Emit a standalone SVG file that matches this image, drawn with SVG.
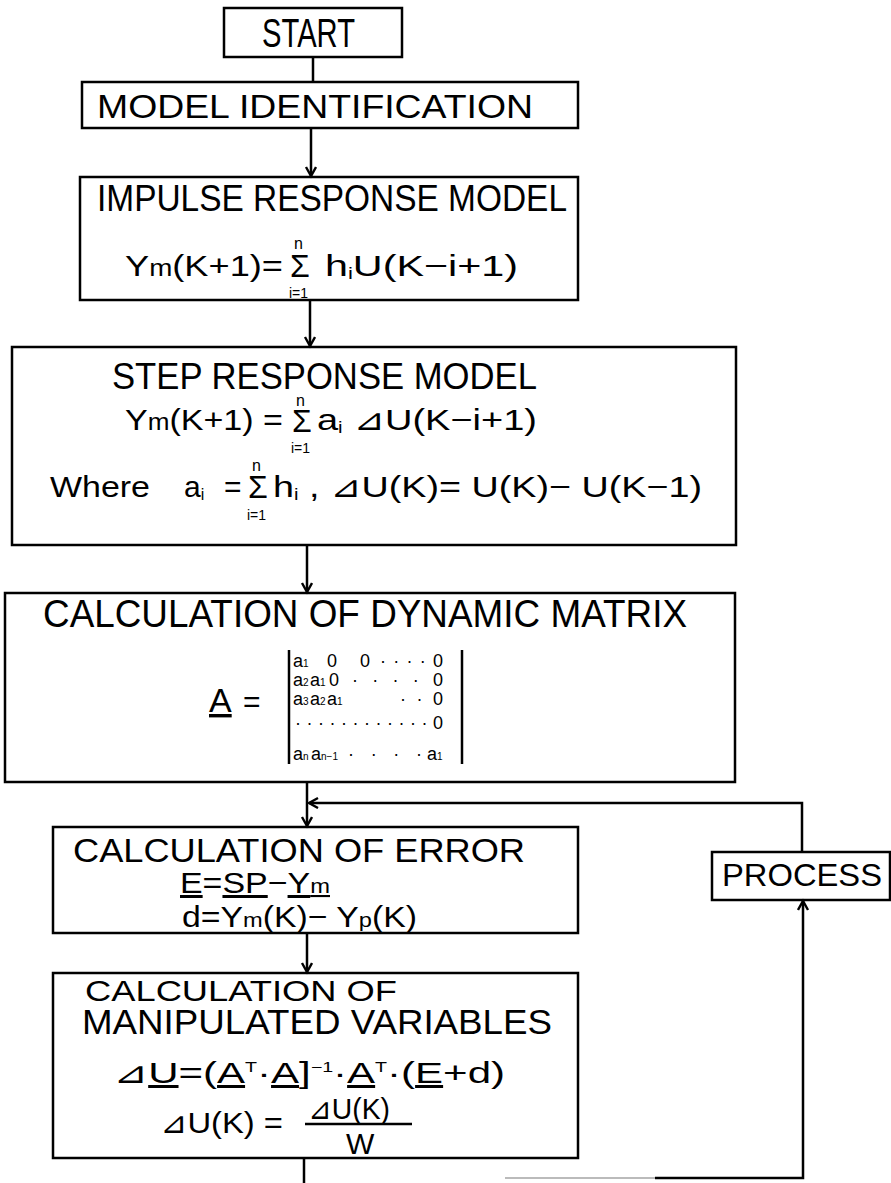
<svg xmlns="http://www.w3.org/2000/svg" width="891" height="1183" viewBox="0 0 891 1183">
<defs>
<style>
.box{fill:none;stroke:#000;stroke-width:2.5}
.ln{fill:none;stroke:#000;stroke-width:2.5}
.t{font-family:"Liberation Sans","DejaVu Sans",sans-serif;fill:#000}
.f{font-family:"Liberation Sans","DejaVu Sans",sans-serif;fill:#000;font-size:30px}
.s{font-family:"Liberation Sans","DejaVu Sans",sans-serif;fill:#000}
.m{font-family:"Liberation Sans","DejaVu Sans",sans-serif;fill:#000;font-size:18px}
.sub{font-size:10px}
</style>
<marker id="arr" markerUnits="userSpaceOnUse" markerWidth="14" markerHeight="14" refX="10" refY="6" orient="auto">
<path d="M1,1 L10,6 L1,11" fill="none" stroke="#000" stroke-width="2.4"/>
</marker>
</defs>
<rect width="891" height="1183" fill="#fff"/>

<g id="start">
<rect class="box" x="224" y="8" width="178" height="49"/>
<text class="t" x="262" y="47" font-size="40" textLength="93" lengthAdjust="spacingAndGlyphs">START</text>
</g>

<g id="model-identification">
<rect class="box" x="82" y="82" width="496" height="46"/>
<text class="t" x="97" y="118" font-size="33" textLength="436" lengthAdjust="spacingAndGlyphs">MODEL  IDENTIFICATION</text>
</g>

<g id="impulse-response">
<rect class="box" x="80" y="177" width="498" height="123"/>
<text class="t" x="97" y="211" font-size="36" textLength="470" lengthAdjust="spacingAndGlyphs">IMPULSE RESPONSE MODEL</text>
<text class="f" x="125" y="276" textLength="158" lengthAdjust="spacingAndGlyphs">Y<tspan font-size="23">m</tspan>(K+1)=</text>
<text class="s" x="290" y="277" font-size="32">Σ</text>
<text class="s" x="294" y="249" font-size="16">n</text>
<text class="s" x="289" y="298" font-size="14">i=1</text>
<text class="f" x="325" y="276" textLength="193" lengthAdjust="spacingAndGlyphs">h<tspan font-size="16" dy="3">i</tspan><tspan dy="-3">U(K−i+1)</tspan></text>
</g>

<g id="step-response">
<rect class="box" x="12" y="347" width="724" height="198"/>
<text class="t" x="112" y="389" font-size="37" textLength="425" lengthAdjust="spacingAndGlyphs">STEP  RESPONSE  MODEL</text>
<text class="f" x="125" y="430" textLength="158" lengthAdjust="spacingAndGlyphs">Y<tspan font-size="23">m</tspan>(K+1) =</text>
<text class="s" x="292" y="432" font-size="32">Σ</text>
<text class="s" x="296" y="406" font-size="16">n</text>
<text class="s" x="291" y="453" font-size="14">i=1</text>
<text class="f" x="317" y="430" textLength="220" lengthAdjust="spacingAndGlyphs">a<tspan font-size="16" dy="3">i</tspan><tspan dy="-3"> ⊿U(K−i+1)</tspan></text>
<text class="f" x="50" y="497" textLength="100" lengthAdjust="spacingAndGlyphs">Where</text>
<text class="f" x="184" y="497">a<tspan font-size="16" dy="3">i</tspan></text>
<text class="f" x="224" y="497">=</text>
<text class="s" x="248" y="498" font-size="32">Σ</text>
<text class="s" x="252" y="471" font-size="16">n</text>
<text class="s" x="247" y="520" font-size="14">i=1</text>
<text class="f" x="273" y="497" textLength="429" lengthAdjust="spacingAndGlyphs">h<tspan font-size="16" dy="3">i</tspan><tspan dy="-3"> , ⊿U(K)= U(K)− U(K−1)</tspan></text>
</g>

<g id="dynamic-matrix">
<rect class="box" x="5" y="593" width="730" height="189"/>
<text class="t" x="43" y="627" font-size="39" textLength="644" lengthAdjust="spacingAndGlyphs">CALCULATION  OF  DYNAMIC  MATRIX</text>
<text class="t" x="209" y="712" font-size="34" text-decoration="underline">A</text>
<text class="t" x="243" y="712" font-size="30">=</text>
<line class="ln" x1="289" y1="650" x2="289" y2="764"/>
<line class="ln" x1="462" y1="650" x2="462" y2="764"/>
<text class="m" x="293" y="667">a<tspan class="sub">1</tspan></text>
<text class="m" x="327" y="667">0</text>
<text class="m" x="360" y="667">0</text>
<text class="m" x="380" y="667" textLength="63" lengthAdjust="spacing">····0</text>
<text class="m" x="293" y="686">a<tspan class="sub">2</tspan></text>
<text class="m" x="310" y="686">a<tspan class="sub">1</tspan></text>
<text class="m" x="329" y="686">0</text>
<text class="m" x="352" y="686" textLength="91" lengthAdjust="spacing">····0</text>
<text class="m" x="293" y="705">a<tspan class="sub">3</tspan></text>
<text class="m" x="310" y="705">a<tspan class="sub">2</tspan></text>
<text class="m" x="327" y="705">a<tspan class="sub">1</tspan></text>
<text class="m" x="400" y="705" textLength="43" lengthAdjust="spacing">··0</text>
<text class="m" x="295" y="729" textLength="148" lengthAdjust="spacing">············0</text>
<text class="m" x="293" y="760">a<tspan class="sub">n</tspan></text>
<text class="m" x="311" y="760">a<tspan class="sub">n−1</tspan></text>
<text class="m" x="348" y="760" textLength="74" lengthAdjust="spacing">····</text>
<text class="m" x="427" y="760">a<tspan class="sub">1</tspan></text>
</g>

<g id="error">
<rect class="box" x="53" y="827" width="525" height="106"/>
<text class="t" x="73" y="862" font-size="34" textLength="452" lengthAdjust="spacingAndGlyphs">CALCULATION  OF  ERROR</text>
<text class="f" x="180" y="893" font-size="27" textLength="150" lengthAdjust="spacingAndGlyphs"><tspan text-decoration="underline">E</tspan>=<tspan text-decoration="underline">SP</tspan>−<tspan text-decoration="underline">Y<tspan font-size="21">m</tspan></tspan></text>
<text class="f" x="182" y="927" font-size="28" textLength="235" lengthAdjust="spacingAndGlyphs">d=Y<tspan font-size="21">m</tspan>(K)−  Y<tspan font-size="21">p</tspan>(K)</text>
</g>

<g id="manipulated-variables">
<rect class="box" x="53" y="973" width="525" height="185"/>
<text class="t" x="85" y="1001" font-size="30" textLength="312" lengthAdjust="spacingAndGlyphs">CALCULATION  OF</text>
<text class="t" x="82" y="1034" font-size="35" textLength="470" lengthAdjust="spacingAndGlyphs">MANIPULATED  VARIABLES</text>
<text class="f" x="113" y="1083" textLength="392" lengthAdjust="spacingAndGlyphs">⊿<tspan text-decoration="underline">U</tspan>=(<tspan text-decoration="underline">A</tspan><tspan font-size="14" dy="-11">T</tspan><tspan dy="11">·</tspan><tspan text-decoration="underline">A</tspan>]<tspan font-size="14" dy="-11">−1</tspan><tspan dy="11">·</tspan><tspan text-decoration="underline">A</tspan><tspan font-size="14" dy="-11">T</tspan><tspan dy="11">·(</tspan><tspan text-decoration="underline">E</tspan>+d)</text>
<text class="f" x="160" y="1133" textLength="123" lengthAdjust="spacingAndGlyphs">⊿U(K) =</text>
<text class="f" x="308" y="1119" font-size="27" textLength="82" lengthAdjust="spacingAndGlyphs">⊿U(K)</text>
<line class="ln" x1="305" y1="1124" x2="412" y2="1124"/>
<text class="f" x="346" y="1154" font-size="28">W</text>
</g>

<g id="process">
<rect class="box" x="712" y="852" width="178" height="48"/>
<text class="t" x="722" y="886" font-size="31" textLength="160" lengthAdjust="spacingAndGlyphs">PROCESS</text>
</g>

<g id="connectors">
<line class="ln" x1="313" y1="57" x2="313" y2="82"/>
<line class="ln" x1="311" y1="128" x2="311" y2="176" marker-end="url(#arr)"/>
<line class="ln" x1="310" y1="300" x2="310" y2="346" marker-end="url(#arr)"/>
<line class="ln" x1="307" y1="545" x2="307" y2="592" marker-end="url(#arr)"/>
<line class="ln" x1="307" y1="782" x2="307" y2="826" marker-end="url(#arr)"/>
<line class="ln" x1="307" y1="933" x2="307" y2="972" marker-end="url(#arr)"/>
<polyline class="ln" points="802,852 802,803 309,803" marker-end="url(#arr)"/>
<line class="ln" x1="304" y1="1158" x2="304" y2="1183"/>
<line x1="505" y1="1178" x2="655" y2="1178" stroke="#bbb" stroke-width="2"/>
<polyline class="ln" points="655,1178 803,1178 803,901" marker-end="url(#arr)"/>
</g>
</svg>
